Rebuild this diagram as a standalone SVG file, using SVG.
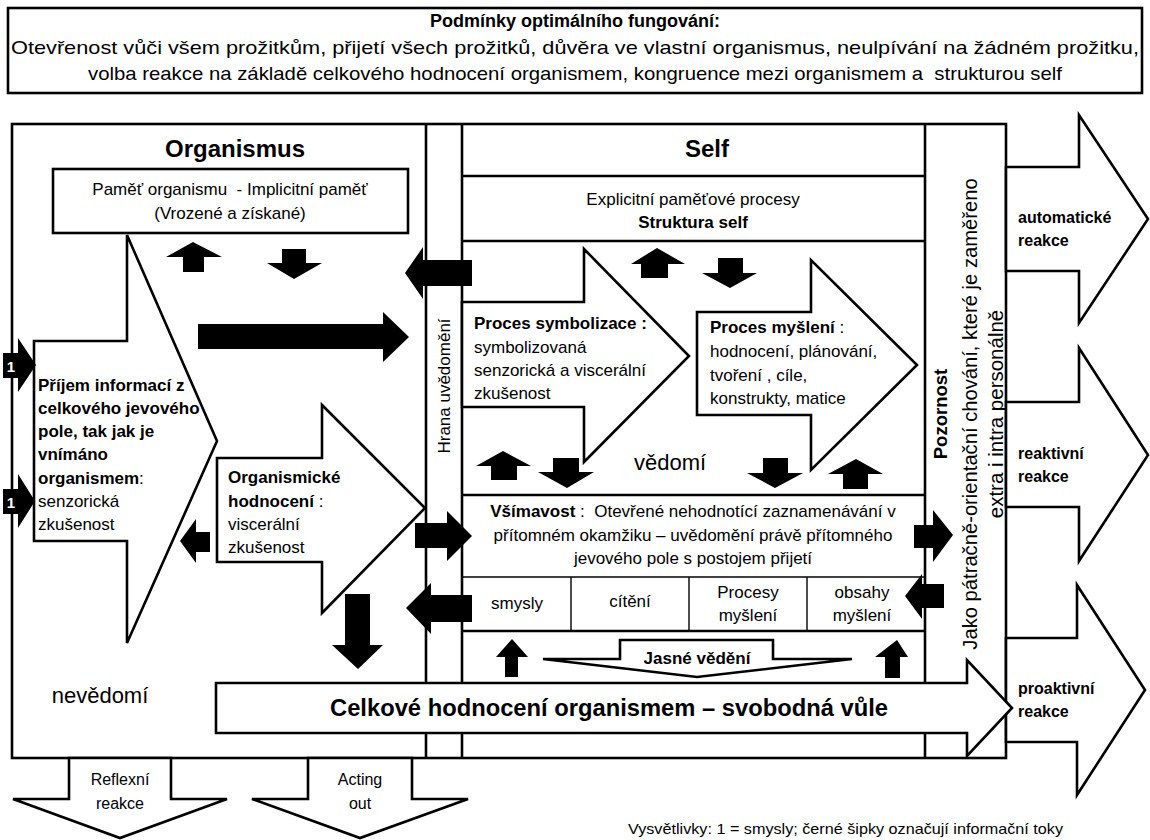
<svg xmlns="http://www.w3.org/2000/svg" width="1150" height="840" viewBox="0 0 1150 840">
<style>
text{font-family:"Liberation Sans",Arial,sans-serif;fill:#000}
.b{font-weight:bold}
.pre{white-space:pre}
.ln{stroke:#000;stroke-width:2.6;fill:none}
.thin{stroke:#000;stroke-width:1.4;fill:none}
.wf{fill:#fff;stroke:#000;stroke-width:2.6;stroke-linejoin:miter}
.blk{fill:#000;stroke:none}
.s17{font-size:17px}
.s16{font-size:16px}
</style>
<rect width="1150" height="840" fill="#fff"/>

<g id="conditions">
<rect x="8" y="8" width="1134" height="85" class="wf"/>
<text x="575" y="27" text-anchor="middle" class="b" font-size="18">Podmínky optimálního fungování:</text>
<text x="575" y="54" text-anchor="middle" font-size="19" textLength="1128" lengthAdjust="spacingAndGlyphs">Otevřenost vůči všem prožitkům, přijetí všech prožitků, důvěra ve vlastní organismus, neulpívání na žádném prožitku,</text>
<text x="575" y="80" text-anchor="middle" font-size="19" class="pre" textLength="974" lengthAdjust="spacingAndGlyphs">volba reakce na základě celkového hodnocení organismem, kongruence mezi organismem a  strukturou self</text>
</g>

<g id="frame">
<rect x="12" y="124" width="994" height="634" class="wf"/>
<line x1="426" y1="124" x2="426" y2="758" class="ln"/>
<line x1="462" y1="124" x2="462" y2="758" class="ln"/>
<line x1="925" y1="124" x2="925" y2="758" class="ln"/>
<line x1="462" y1="176" x2="925" y2="176" class="ln"/>
<line x1="462" y1="241" x2="925" y2="241" class="ln"/>
<line x1="462" y1="495" x2="925" y2="495" class="ln"/>
<line x1="462" y1="577" x2="925" y2="577" class="thin"/>
<line x1="462" y1="631" x2="925" y2="631" class="ln"/>
<line x1="571" y1="577" x2="571" y2="631" class="thin"/>
<line x1="689" y1="577" x2="689" y2="631" class="thin"/>
<line x1="807" y1="577" x2="807" y2="631" class="thin"/>
</g>

<g id="organismus">
<text x="235" y="157" text-anchor="middle" class="b" font-size="24">Organismus</text>
<text x="100" y="703" text-anchor="middle" font-size="22">nevědomí</text>
</g>

<g id="self">
<text x="707" y="157" text-anchor="middle" class="b" font-size="24">Self</text>
<text x="693" y="205" text-anchor="middle" class="s17">Explicitní paměťové procesy</text>
<text x="693" y="228" text-anchor="middle" class="s17 b">Struktura self</text>
<text x="670" y="470" text-anchor="middle" font-size="22">vědomí</text>
</g>

<g id="pamet">
<rect x="53" y="169" width="355" height="64" class="wf"/>
<text x="230" y="195" text-anchor="middle" class="s17 pre">Paměť organismu  - Implicitní paměť</text>
<text x="230" y="219" text-anchor="middle" class="s17">(Vrozené a získané)</text>
</g>

<g id="hrana">
<text transform="translate(450,386) rotate(-90)" text-anchor="middle" class="s17">Hrana uvědomění</text>
</g>

<g id="pozornost">
<text transform="translate(947,414) rotate(-90)" text-anchor="middle" class="b" font-size="18.5">Pozornost</text>
<text transform="translate(977,414) rotate(-90)" text-anchor="middle" font-size="20.2">Jako pátračně-orientační chování, které je zaměřeno</text>
<text transform="translate(1003,414) rotate(-90)" text-anchor="middle" font-size="20.5">extra i intra personálně</text>
</g>

<g id="prijem">
<polygon points="34,341 127,341 127,235 217,441 127,643 127,541 34,541" class="wf"/>
<text x="38" class="s17"><tspan x="38" y="391" class="b">Příjem informací z</tspan><tspan x="38" y="414" class="b">celkového jevového</tspan><tspan x="38" y="437" class="b">pole, tak jak je</tspan><tspan x="38" y="460" class="b">vnímáno</tspan><tspan x="38" y="484" class="b">organismem</tspan><tspan>:</tspan><tspan x="38" y="507">senzorická</tspan><tspan x="38" y="530">zkušenost</tspan></text>
</g>

<g id="organismicke">
<polygon points="217,458 322,458 322,405 425,508 322,613 322,562 217,562" class="wf"/>
<text class="s17"><tspan x="228" y="483" class="b">Organismické</tspan><tspan x="228" y="507" class="b">hodnocení</tspan><tspan> :</tspan><tspan x="228" y="530">viscerální</tspan><tspan x="228" y="553">zkušenost</tspan></text>
</g>

<g id="symbolizace">
<polygon points="462,302 584,302 584,249 689,356 584,462 584,407 462,407" class="wf"/>
<text class="s17"><tspan x="474" y="329" class="b">Proces symbolizace :</tspan><tspan x="474" y="353">symbolizovaná</tspan><tspan x="474" y="376">senzorická a viscerální</tspan><tspan x="474" y="399">zkušenost</tspan></text>
</g>

<g id="mysleni">
<polygon points="697,312 811,312 811,260 917,365 811,470 811,415 697,415" class="wf"/>
<text class="s17"><tspan x="710" y="333" class="b">Proces myšlení</tspan><tspan> :</tspan><tspan x="710" y="357">hodnocení, plánování,</tspan><tspan x="710" y="381">tvoření , cíle,</tspan><tspan x="710" y="404">konstrukty, matice</tspan></text>
</g>

<g id="vsimavost">
<text x="693" y="517" text-anchor="middle" class="s17 pre"><tspan class="b">Všímavost</tspan> :  Otevřené nehodnotící zaznamenávání v</text>
<text x="693" y="541" text-anchor="middle" class="s17">přítomném okamžiku – uvědomění právě přítomného</text>
<text x="693" y="564" text-anchor="middle" class="s17">jevového pole s postojem přijetí</text>
</g>

<g id="cells">
<text x="517" y="609" text-anchor="middle" class="s17">smysly</text>
<text x="630" y="607" text-anchor="middle" class="s17">cítění</text>
<text x="748" y="598" text-anchor="middle" class="s17">Procesy</text>
<text x="748" y="621" text-anchor="middle" class="s17">myšlení</text>
<text x="862" y="598" text-anchor="middle" class="s17">obsahy</text>
<text x="862" y="621" text-anchor="middle" class="s17">myšlení</text>
</g>

<g id="jasne-vedeni">
<polygon points="543,659 620,659 620,640 773,640 773,659 852,659 697,677" class="wf"/>
<text x="697" y="664" text-anchor="middle" class="b s17">Jasné vědění</text>
</g>

<g id="automaticke">
<polygon points="1006,167 1079,167 1079,115 1148,219 1079,323 1079,271 1006,271" class="wf"/>
<text class="b s16"><tspan x="1018" y="223">automatické</tspan><tspan x="1018" y="246">reakce</tspan></text>
</g>

<g id="reaktivni">
<polygon points="1006,402 1079,402 1079,348 1148,455 1079,561 1079,507 1006,507" class="wf"/>
<text class="b s16"><tspan x="1018" y="459">reaktivní</tspan><tspan x="1018" y="482">reakce</tspan></text>
</g>

<g id="proaktivni">
<polygon points="1006,638 1077,638 1077,585 1145,690 1077,795 1077,742 1006,742" class="wf"/>
<text class="b s16"><tspan x="1018" y="694">proaktivní</tspan><tspan x="1018" y="717">reakce</tspan></text>
</g>

<g id="celkove">
<polygon points="216,683 967,683 967,660 1012,708 967,756 967,733 216,733" class="wf"/>
<text x="609" y="716" text-anchor="middle" class="b" font-size="23" textLength="558" lengthAdjust="spacingAndGlyphs">Celkové hodnocení organismem – svobodná vůle</text>
</g>

<g id="reflexni">
<polygon points="69,758 171,758 171,799 227,799 120,838 13,799 69,799" class="wf"/>
<text class="s16" text-anchor="middle"><tspan x="120" y="785">Reflexní</tspan><tspan x="120" y="809">reakce</tspan></text>
</g>

<g id="acting-out">
<polygon points="308,758 412,758 412,799 468,799 360,838 252,799 308,799" class="wf"/>
<text class="s16" text-anchor="middle"><tspan x="360" y="785">Acting</tspan><tspan x="360" y="809">out</tspan></text>
</g>

<g id="connectors">
<polygon class="blk" points="3,353 18,353 18,338 36,365 18,392 18,378 3,378"/>
<polygon class="blk" points="3,489 18,489 18,474 35,501 18,528 18,514 3,514"/>
<polygon class="blk" points="193,242 222,257 204,257 204,272 183,272 183,257 166,257"/>
<polygon class="blk" points="282,249 306,249 306,263 322,263 294,279 267,263 282,263"/>
<polygon class="blk" points="198,324 383,324 383,312 409,337 383,362 383,349 198,349"/>
<polygon class="blk" points="405,273 423,247 423,260 472,260 472,286 423,286 423,299"/>
<polygon class="blk" points="657,248 685,264 668,264 668,278 641,278 641,264 631,264"/>
<polygon class="blk" points="718,258 743,258 743,273 757,273 730,288 702,273 718,273"/>
<polygon class="blk" points="503,451 531,466 517,466 517,480 491,480 491,466 476,466"/>
<polygon class="blk" points="553,458 579,458 579,472 594,472 567,488 538,472 553,472"/>
<polygon class="blk" points="763,458 788,458 788,473 803,473 775,488 747,473 763,473"/>
<polygon class="blk" points="856,459 883,474 868,474 868,489 843,489 843,474 828,474"/>
<polygon class="blk" points="180,541 196,519 196,532 210,532 210,552 196,552 196,563"/>
<polygon class="blk" points="345,594 370,594 370,645 383,645 358,669 332,645 345,645"/>
<polygon class="blk" points="415,523 447,523 447,511 472,536 447,561 447,548 415,548"/>
<polygon class="blk" points="406,608 431,583 431,595 472,595 472,622 431,622 431,634"/>
<polygon class="blk" points="914,525 933,525 933,510 953,535 933,562 933,548 914,548"/>
<polygon class="blk" points="905,596 922,574 922,584 944,584 944,608 922,608 922,619"/>
<polygon class="blk" points="512,639 528,657 518,657 518,677 505,677 505,657 496,657"/>
<polygon class="blk" points="897,640 908,657 900,657 900,678 885,678 885,657 875,657"/>
<text x="11" y="372" text-anchor="middle" class="b" font-size="15" fill="#fff" style="fill:#fff">1</text>
<text x="11" y="508" text-anchor="middle" class="b" font-size="15" fill="#fff" style="fill:#fff">1</text>
</g>

<g id="legend">
<text x="628" y="834" font-size="14.5" textLength="435" lengthAdjust="spacingAndGlyphs">Vysvětlivky: 1 = smysly; černé šipky označují informační toky</text>
</g>
</svg>
